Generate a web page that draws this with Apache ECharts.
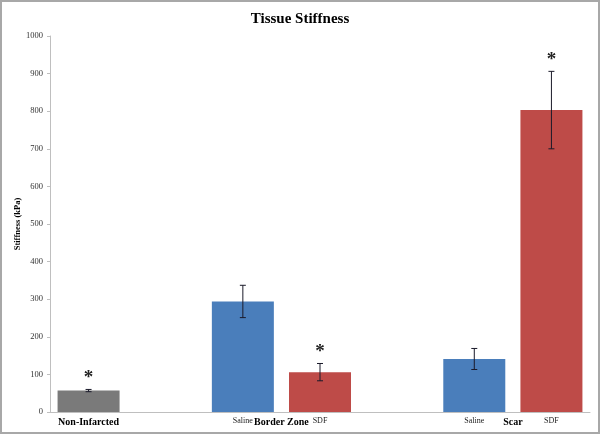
<!DOCTYPE html>
<html>
<head>
<meta charset="utf-8">
<script src="https://cdn.jsdelivr.net/npm/echarts@6/dist/echarts.min.js"></script>
<style>html,body{margin:0;padding:0;background:#fff}#c{width:600px;height:434px}</style>
</head>
<body>
<div id="c"></div>
<script>
// ---- data ----
const slotLabels = ['Non-Infarcted', 'gap1', 'Saline', 'SDF', 'gap2', 'Saline', 'SDF'];
const stiffness = [57, null, 294, 106, null, 141, 803];
const stdErr = [3, null, 43, 23, null, 28, 103];
const significant = [true, false, false, true, false, false, true];
const groupNames = ['Non-Infarcted', 'Border Zone', 'Scar'];
const groupSlots = [[0], [2, 3], [5, 6]];
const yTicks = [0, 100, 200, 300, 400, 500, 600, 700, 800, 900, 1000];

// ---- styles ----
const barColors = ['#7a7a7a', '#ffffff', '#4a7ebb', '#be4b48', '#ffffff', '#4a7ebb', '#be4b48'];
const serif = 'Liberation Serif, Times New Roman, serif';

const chart = echarts.init(document.getElementById('c'), null, {renderer: 'canvas'});

const barData = stiffness.map((v, i) => v == null ? null : ({value: v, itemStyle: {color: barColors[i]}}));
const errData = stiffness.map((v, i) => v == null ? null : [i, v, stdErr[i], significant[i] ? 1 : 0]).filter(d => d);

chart.setOption({
  animation: false,
  title: {
    text: 'Tissue Stiffness', left: 'center', top: 7,
    textStyle: {fontFamily: serif, fontWeight: 'bold', fontSize: 15, color: '#000'}
  },
  grid: {left: 50, right: 10, top: 36, bottom: 22, containLabel: false, outerBoundsMode: 'none'},
  xAxis: {
    type: 'category', data: slotLabels, boundaryGap: true,
    axisLine: {lineStyle: {color: '#bfbfbf', width: 1}},
    axisTick: {show: false},
    axisLabel: {
      interval: 0, margin: 5, fontFamily: serif, fontSize: 8, color: '#222',
      formatter: v => (v === 'Saline' || v === 'SDF') ? v : ''
    }
  },
  yAxis: {
    type: 'value', min: yTicks[0], max: yTicks[yTicks.length - 1], interval: 100,
    name: 'Stiffness (kPa)', nameLocation: 'middle', nameGap: 28, nameRotate: 90,
    nameMoveOverlap: false,
    nameTextStyle: {fontFamily: serif, fontWeight: 'bold', fontSize: 8.5, color: '#000'},
    axisLine: {show: true, lineStyle: {color: '#bfbfbf', width: 1}},
    axisTick: {show: true, length: 3, lineStyle: {color: '#bfbfbf'}},
    splitLine: {show: false},
    axisLabel: {fontFamily: serif, fontSize: 8.5, color: '#333', margin: 7, formatter: v => String(v)}
  },
  series: [
    {
      type: 'bar', data: barData, barWidth: 62, silent: true
    },
    {
      type: 'custom', data: errData, z: 5, silent: true,
      renderItem: function (params, api) {
        const x = api.value(0), y = api.value(1), e = api.value(2), sig = api.value(3);
        const top = api.coord([x, y + e]);
        const bot = api.coord([x, y - e]);
        const cap = 3;
        const st = {stroke: '#1a1a2a', lineWidth: 1};
        const children = [
          {type: 'line', shape: {x1: top[0], y1: top[1], x2: bot[0], y2: bot[1]}, style: st},
          {type: 'line', shape: {x1: top[0] - cap, y1: top[1], x2: top[0] + cap, y2: top[1]}, style: st},
          {type: 'line', shape: {x1: bot[0] - cap, y1: bot[1], x2: bot[0] + cap, y2: bot[1]}, style: st}
        ];
        if (sig) {
          children.push({
            type: 'text',
            style: {
              text: '*', x: top[0], y: top[1] - 11, align: 'center', verticalAlign: 'middle',
              font: 'bold 19px ' + serif, fill: '#222'
            }
          });
        }
        return {type: 'group', children: children};
      }
    }
  ]
});

// group labels placed at axis positions of their member slots
const groupTexts = groupNames.map((name, gi) => {
  const xs = groupSlots[gi].map(s => chart.convertToPixel({xAxisIndex: 0}, s));
  const cx = xs.reduce((a, b) => a + b, 0) / xs.length;
  const baseY = chart.convertToPixel({yAxisIndex: 0}, 0);
  return {
    type: 'text', x: cx, y: baseY + 10,
    style: {text: name, align: 'center', verticalAlign: 'middle', font: 'bold 10px ' + serif, fill: '#000'}
  };
});

chart.setOption({
  graphic: [
    {type: 'rect', shape: {x: 1, y: 1, width: 598, height: 432},
     style: {fill: 'none', stroke: '#a8a8a8', lineWidth: 2}, silent: true}
  ].concat(groupTexts)
});
</script>
</body>
</html>
